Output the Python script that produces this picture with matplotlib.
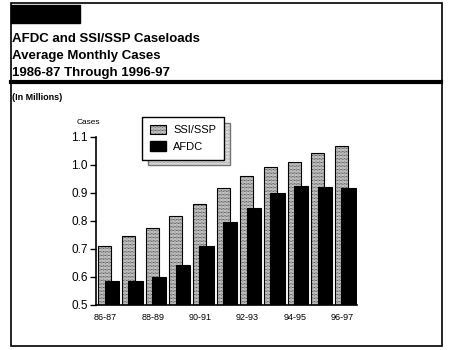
import numpy as np
import matplotlib.pyplot as plt
from matplotlib.patches import Rectangle, Patch

# data (millions of cases)
years = ["86-87", "87-88", "88-89", "89-90", "90-91", "91-92",
         "92-93", "93-94", "94-95", "95-96", "96-97"]
ssi_ssp = [0.71, 0.745, 0.775, 0.815, 0.86, 0.915, 0.96, 0.99, 1.01, 1.04, 1.065]
afdc = [0.585, 0.585, 0.60, 0.64, 0.71, 0.795, 0.845, 0.90, 0.925, 0.92, 0.915]
ytcks = [0.5, 0.6, 0.7, 0.8, 0.9, 1.0, 1.1]
ytcklab = ["0.5", "0.6", "0.7", "0.8", "0.9", "1.0", "1.1"]

plt.rcParams['font.family'] = ['Liberation Sans', 'DejaVu Sans']
plt.rcParams['hatch.linewidth'] = 0.5

W, H = 451, 350
fig = plt.figure(figsize=(W / 100, H / 100), dpi=100)

def fx(px):
    return px / W

def fy(py):
    return 1 - py / H

# outer frame and header decorations
fig.patches.append(Rectangle((fx(11), fy(346)), fx(431), (346 - 3) / H,
                             transform=fig.transFigure, fill=False,
                             edgecolor="black", linewidth=1.2))
fig.patches.append(Rectangle((fx(11), fy(23)), fx(69), 18 / H,
                             transform=fig.transFigure, facecolor="black",
                             edgecolor="black"))
fig.add_artist(plt.Line2D([fx(11), fx(441)], [fy(81.5), fy(81.5)],
                          transform=fig.transFigure, color="black", linewidth=3))

titulo = ["AFDC and SSI/SSP Caseloads", "Average Monthly Cases",
          "1986-87 Through 1996-97"]
for k, linea in enumerate(titulo):
    fig.text(fx(12), fy(42 + 17 * k), linea, fontsize=9.5, fontweight="bold",
             va="baseline", ha="left")
fig.text(fx(12), fy(100), "(In Millions)", fontsize=6.5, fontweight="bold",
         va="baseline", ha="left")

# chart
ax = fig.add_axes([fx(96), fy(304.5), fx(357 - 96), (304.5 - 136.5) / H])
x = np.arange(len(years))
patron = "............"
ax.bar(x - 0.3, np.array(ssi_ssp) - 0.5, bottom=0.5, width=0.55, align="edge",
       facecolor="white", edgecolor="black", hatch=patron, linewidth=0.8,
       label="SSI/SSP")
ax.bar(x - 0.03, np.array(afdc) - 0.5, bottom=0.5, width=0.6, align="edge",
       facecolor="black", edgecolor="black", linewidth=0.8, label="AFDC")

ax.set_ylim(0.5, 1.1)
ax.set_xlim(-0.4, 10.63)
ax.set_yticks(ytcks, ytcklab, fontsize=8.5)
ax.set_xticks(x[::2], years[::2], fontsize=6.5)
ax.tick_params(axis="x", length=0, pad=6)
ax.tick_params(axis="y", length=4, width=1, pad=2)
for lado in ["top", "right"]:
    ax.spines[lado].set_visible(False)
for lado in ["left", "bottom"]:
    ax.spines[lado].set_linewidth(1.2)

fig.text(fx(77), fy(124), "Cases", fontsize=6, va="baseline", ha="left")

handles = [Patch(facecolor="white", edgecolor="black", hatch=patron, linewidth=0.8),
           Patch(facecolor="black", edgecolor="black")]
leg = ax.legend(handles, ["SSI/SSP", "AFDC"], loc="upper left",
                bbox_to_anchor=(fx(142), fy(117)), bbox_transform=fig.transFigure,
                borderaxespad=0, fontsize=8, handlelength=1.5, handleheight=0.9,
                handletextpad=0.6, labelspacing=0.55, borderpad=0.7,
                fancybox=False, framealpha=1,
                shadow={"facecolor": "white", "edgecolor": "0.45", "hatch": patron,
                        "alpha": 1, "ox": 4.5, "oy": -4})
leg.get_frame().set_edgecolor("black")
leg.get_frame().set_linewidth(1)

fig.savefig("out.png", dpi=100)
